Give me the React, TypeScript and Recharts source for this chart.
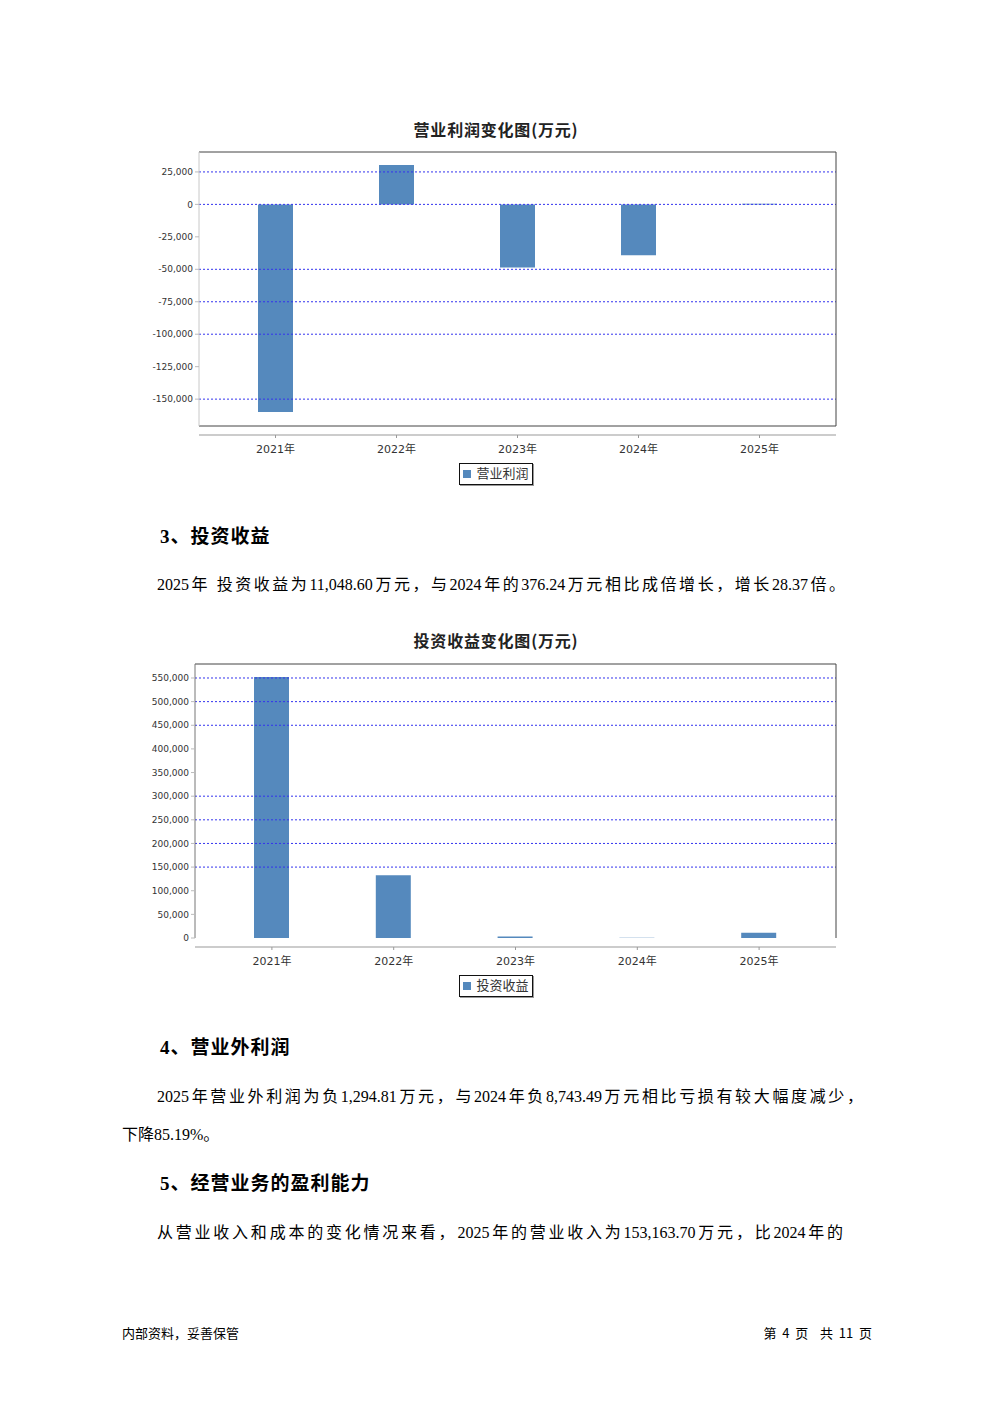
import React from "react";
import {
  Bar,
  BarChart,
  Legend,
  ReferenceLine,
  XAxis,
  YAxis,
} from "recharts";

const years = ["2021年", "2022年", "2023年", "2024年", "2025年"];
const operatingProfit = [-160000, 30400, -48700, -39100, 400];
const investIncome = [552000, 133000, 3000, 376.24, 11048.6];

const profitTicks = [25000, 0, -25000, -50000, -75000, -100000, -125000, -150000];
const profitGrid = [25000, 0, -50000, -75000, -100000, -150000];
const investTicks = [0, 50000, 100000, 150000, 200000, 250000, 300000, 350000, 400000, 450000, 500000, 550000];
const investGrid = [550000, 500000, 450000, 300000, 250000, 200000, 150000];

const BLUE = "#5589bd";
const GRID = "#3333ee";
const FRAME = "#444";
const SANS = "'DejaVu Sans', 'Noto Sans CJK SC', sans-serif";
const CJK = "'Liberation Serif', 'Noto Sans CJK SC', serif";
const YTICK = { fill: "#333", fontSize: 9, fontFamily: SANS };
const XTICK = { fill: "#333", fontSize: 11, fontFamily: SANS };

const fmt = (v: number) => v.toLocaleString("en-US");

function LegendBox({ label }: { label: string }) {
  return (
    <div
      style={{
        display: "inline-flex",
        alignItems: "center",
        border: "1px solid #111",
        boxShadow: "1px 1px 0 #999",
        padding: "1px 3px 1px 3px",
        background: "#fff",
        fontFamily: SANS,
        fontSize: 13,
        color: "#333",
        lineHeight: "18px",
      }}
    >
      <span style={{ width: 8, height: 8, background: BLUE, marginRight: 5, display: "inline-block" }} />
      {label}
    </div>
  );
}

function ChangeChart({
  top,
  left,
  values,
  name,
  domain,
  ticks,
  grid,
  legendTop,
  bottomEdge,
}: {
  top: number;
  left: number;
  values: number[];
  name: string;
  domain: [number, number];
  ticks: number[];
  grid: number[];
  legendTop: number;
  bottomEdge: boolean;
}) {
  const data = years.map((y, i) => ({ year: y, value: values[i] }));
  return (
    <div style={{ position: "absolute", left: 0, top }}>
      <BarChart
        width={992}
        height={400}
        data={data}
        margin={{ top: 51, right: 155, left: left - 60, bottom: 35 }}
      >
        {grid.map((g) => (
          <ReferenceLine key={g} y={g} stroke={GRID} strokeDasharray="2 2" strokeWidth={1} />
        ))}
        <XAxis
          dataKey="year"
          height={9}
          tick={false}
          axisLine={bottomEdge ? { stroke: FRAME } : false}
          tickLine={false}
          padding={{ left: 16, right: 16 }}
        />
        <XAxis
          xAxisId="lbl"
          dataKey="year"
          height={30}
          axisLine={{ stroke: "#999" }}
          tickLine={{ stroke: "#999" }}
          tickSize={3}
          tickMargin={7}
          tick={XTICK}
          padding={{ left: 16, right: 16 }}
        />
        <XAxis
          xAxisId="top"
          orientation="top"
          dataKey="year"
          height={1}
          tick={false}
          tickLine={false}
          axisLine={{ stroke: FRAME }}
        />
        <YAxis
          type="number"
          width={60}
          domain={domain}
          ticks={ticks}
          interval={0}
          allowDataOverflow
          tick={YTICK}
          tickFormatter={fmt}
          axisLine={{ stroke: bottomEdge ? "#c8c8c8" : "#777" }}
          tickLine={{ stroke: "#bbb" }}
          tickSize={4}
          tickMargin={2}
        />
        <YAxis
          yAxisId="right"
          orientation="right"
          type="number"
          width={1}
          domain={domain}
          tick={false}
          tickLine={false}
          axisLine={{ stroke: FRAME }}
        />
        <Legend
          layout="horizontal"
          verticalAlign="middle"
          align="center"
          wrapperStyle={{ top: legendTop, left: 0, width: 992, textAlign: "center" }}
          content={() => <LegendBox label={name} />}
        />
        <Bar dataKey="value" name={name} fill={BLUE} barSize={35} isAnimationActive={false} />
      </BarChart>
    </div>
  );
}

const P = (props: { top: number; left: number; width?: number; children: React.ReactNode; justify?: boolean }) => (
  <div
    style={{
      position: "absolute",
      top: props.top,
      left: props.left,
      width: props.width,
      fontFamily: CJK,
      fontSize: 16,
      lineHeight: "20px",
      color: "#000",
      whiteSpace: "nowrap",
      textAlign: props.justify ? "justify" : "left",
      textAlignLast: props.justify ? "justify" : "auto",
    }}
  >
    {props.children}
  </div>
);

const H = (props: { top: number; children: React.ReactNode }) => (
  <div
    style={{
      position: "absolute",
      top: props.top,
      left: 160,
      fontFamily: CJK,
      fontWeight: 700,
      fontSize: 19,
      letterSpacing: 1,
      lineHeight: "22px",
      color: "#000",
      whiteSpace: "nowrap",
    }}
  >
    {props.children}
  </div>
);

const Title = (props: { top: number; children: React.ReactNode }) => (
  <div
    style={{
      position: "absolute",
      top: props.top,
      left: 0,
      width: 992,
      textAlign: "center",
      fontFamily: "'Noto Sans CJK SC', sans-serif",
      fontWeight: 700,
      fontSize: 16,
      letterSpacing: 0.8,
      lineHeight: "20px",
      color: "#222",
    }}
  >
    {props.children}
  </div>
);

const FOOT: React.CSSProperties = {
  position: "absolute",
  top: 1324,
  fontFamily: "'Noto Sans CJK SC', sans-serif",
  fontSize: 13,
  lineHeight: "18px",
  color: "#000",
  whiteSpace: "pre",
};

export default function App() {
  return (
    <div style={{ position: "absolute", left: 0, top: 0, width: 992, height: 1403, background: "#fff" }}>
      <Title top={119}>营业利润变化图(万元)</Title>
      <ChangeChart
        top={100}
        left={199}
        values={operatingProfit}
        name="营业利润"
        domain={[-170700, 40350]}
        ticks={profitTicks}
        grid={profitGrid}
        legendTop={363}
        bottomEdge
      />

      <H top={526}>3、投资收益</H>
      <P top={575} left={157} width={688} justify>
        2025年 投资收益为11,048.60万元，与2024年的376.24万元相比成倍增长，增长28.37倍。
      </P>

      <Title top={630}>投资收益变化图(万元)</Title>
      <ChangeChart
        top={612}
        left={195}
        values={investIncome}
        name="投资收益"
        domain={[0, 579600]}
        ticks={investTicks}
        grid={investGrid}
        legendTop={363}
        bottomEdge={false}
      />

      <H top={1037}>4、营业外利润</H>
      <P top={1087} left={157} width={706} justify>
        2025年营业外利润为负1,294.81万元，与2024年负8,743.49万元相比亏损有较大幅度减少，
      </P>
      <P top={1125} left={122}>
        下降85.19%。
      </P>

      <H top={1173}>5、经营业务的盈利能力</H>
      <P top={1223} left={157} width={686} justify>
        从营业收入和成本的变化情况来看，2025年的营业收入为153,163.70万元，比2024年的
      </P>

      <div style={{ ...FOOT, left: 122 }}>内部资料，妥善保管</div>
      <div style={{ ...FOOT, right: 992 - 872 }}>第  4  页    共  11  页</div>
    </div>
  );
}
